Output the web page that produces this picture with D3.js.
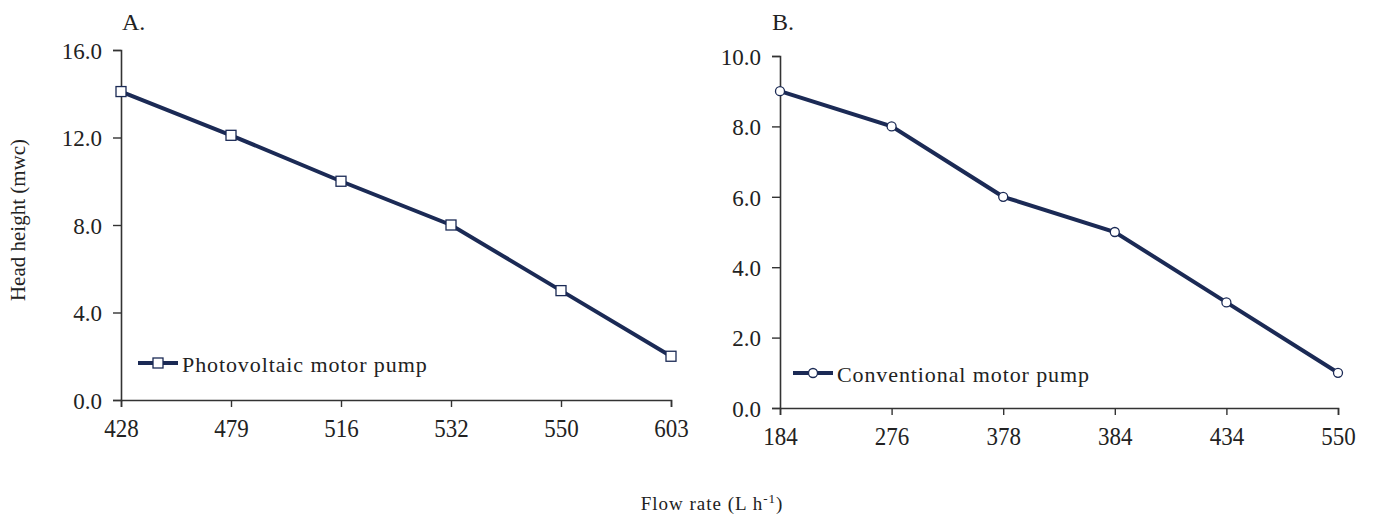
<!DOCTYPE html>
<html>
<head>
<meta charset="utf-8">
<script src="https://cdn.jsdelivr.net/npm/d3@7"></script>
<style>
  body { margin: 0; background: #fff; }
  text { font-family: "Liberation Serif", "Times New Roman", serif; fill: #222; }
</style>
</head>
<body>
<script>
// panel A: photovoltaic pump
const flowA = ["428", "479", "516", "532", "550", "603"]
const headA = [14.1, 12.1, 10.0, 8.0, 5.0, 2.0]
const ticksA = [0, 4, 8, 12, 16]

// panel B: conventional pump
const flowB = ["184", "276", "378", "384", "434", "550"]
const headB = [9.0, 8.0, 6.0, 5.0, 3.0, 1.0]
const ticksB = [0, 2, 4, 6, 8, 10]

const lineColor = "#1b2a55"

const svg = d3.select("body").append("svg")
    .attr("width", 1375)
    .attr("height", 518)

function drawPanel(opt) {
    const x = d3.scalePoint().domain(opt.cats).range([opt.x0, opt.x1]).padding(0)
    const y = d3.scaleLinear().domain([0, opt.max]).range([opt.y0, opt.y1])
    const g = svg.append("g")

    // axes
    const xAxis = g.append("g")
        .attr("transform", "translate(0," + opt.y0 + ")")
        .call(d3.axisBottom(x).tickSize(7))
    const yAxis = g.append("g")
        .attr("transform", "translate(" + opt.x0 + ",0)")
        .call(d3.axisLeft(y).tickValues(opt.ticks).tickSize(8).tickPadding(11).tickFormat(d3.format(".1f")))
    ;[xAxis, yAxis].forEach(a => {
        a.attr("font-family", null).attr("font-size", null)
        a.select(".domain").attr("stroke", "#333").attr("stroke-width", 1.6)
        a.selectAll(".tick line").attr("stroke", "#333").attr("stroke-width", 1.4)
        a.selectAll("text").attr("fill", "#222")
    })
    yAxis.selectAll("text").attr("font-size", 23).attr("dy", "0.36em")
    // x labels look a bit taller in the original
    xAxis.selectAll("text")
        .attr("font-size", 23)
        .attr("y", 0).attr("dy", 0)
        .attr("transform", "translate(0,37) scale(1,1.12)")

    const data = opt.cats.map((c, i) => ({ c, v: opt.vals[i] }))

    g.append("path")
        .datum(data)
        .attr("fill", "none")
        .attr("stroke", lineColor)
        .attr("stroke-width", 4)
        .attr("d", d3.line().x(d => x(d.c)).y(d => y(d.v)))

    drawMarkers(g, data.map(d => [x(d.c), y(d.v)]), opt.shape)

    // legend
    const ly = opt.legY
    g.append("line")
        .attr("x1", opt.legX).attr("x2", opt.legX + 40)
        .attr("y1", ly).attr("y2", ly)
        .attr("stroke", lineColor).attr("stroke-width", 4)
    drawMarkers(g, [[opt.legX + 20, ly]], opt.shape)
    g.append("text")
        .attr("x", opt.legX + 44).attr("y", ly + 9)
        .attr("font-size", 22)
        .style("letter-spacing", "0.9px")
        .text(opt.label)

    // panel title
    g.append("text")
        .attr("x", opt.titleX).attr("y", 30)
        .attr("font-size", 24)
        .text(opt.title)
}

function drawMarkers(g, pts, shape) {
    if (shape == "square") {
        g.selectAll(null).data(pts).enter().append("rect")
            .attr("x", d => d[0] - 5).attr("y", d => d[1] - 5)
            .attr("width", 10).attr("height", 10)
            .attr("fill", "#fff").attr("stroke", lineColor).attr("stroke-width", 1.3)
    } else {
        g.selectAll(null).data(pts).enter().append("circle")
            .attr("cx", d => d[0]).attr("cy", d => d[1]).attr("r", 4.5)
            .attr("fill", "#fff").attr("stroke", lineColor).attr("stroke-width", 1.3)
    }
}

drawPanel({
    cats: flowA, vals: headA, ticks: ticksA, max: 16,
    x0: 121, x1: 671, y0: 400, y1: 50,
    shape: "square", label: "Photovoltaic motor pump",
    legX: 138, legY: 363, title: "A.", titleX: 122
})

drawPanel({
    cats: flowB, vals: headB, ticks: ticksB, max: 10,
    x0: 780, x1: 1338, y0: 408, y1: 56,
    shape: "circle", label: "Conventional motor pump",
    legX: 793, legY: 373, title: "B.", titleX: 772
})

// shared axis titles
svg.append("text")
    .attr("transform", "translate(25,220) rotate(-90)")
    .attr("text-anchor", "middle")
    .attr("font-size", 21)
    .text("Head height (mwc)")

const xt = svg.append("text")
    .attr("x", 712).attr("y", 510)
    .attr("text-anchor", "middle")
    .attr("font-size", 19)
    .style("letter-spacing", "1px")
xt.append("tspan").text("Flow rate (L h")
xt.append("tspan").attr("dy", "-7").attr("font-size", 13).text("-1")
xt.append("tspan").attr("dy", "7").text(")")
</script>
</body>
</html>
